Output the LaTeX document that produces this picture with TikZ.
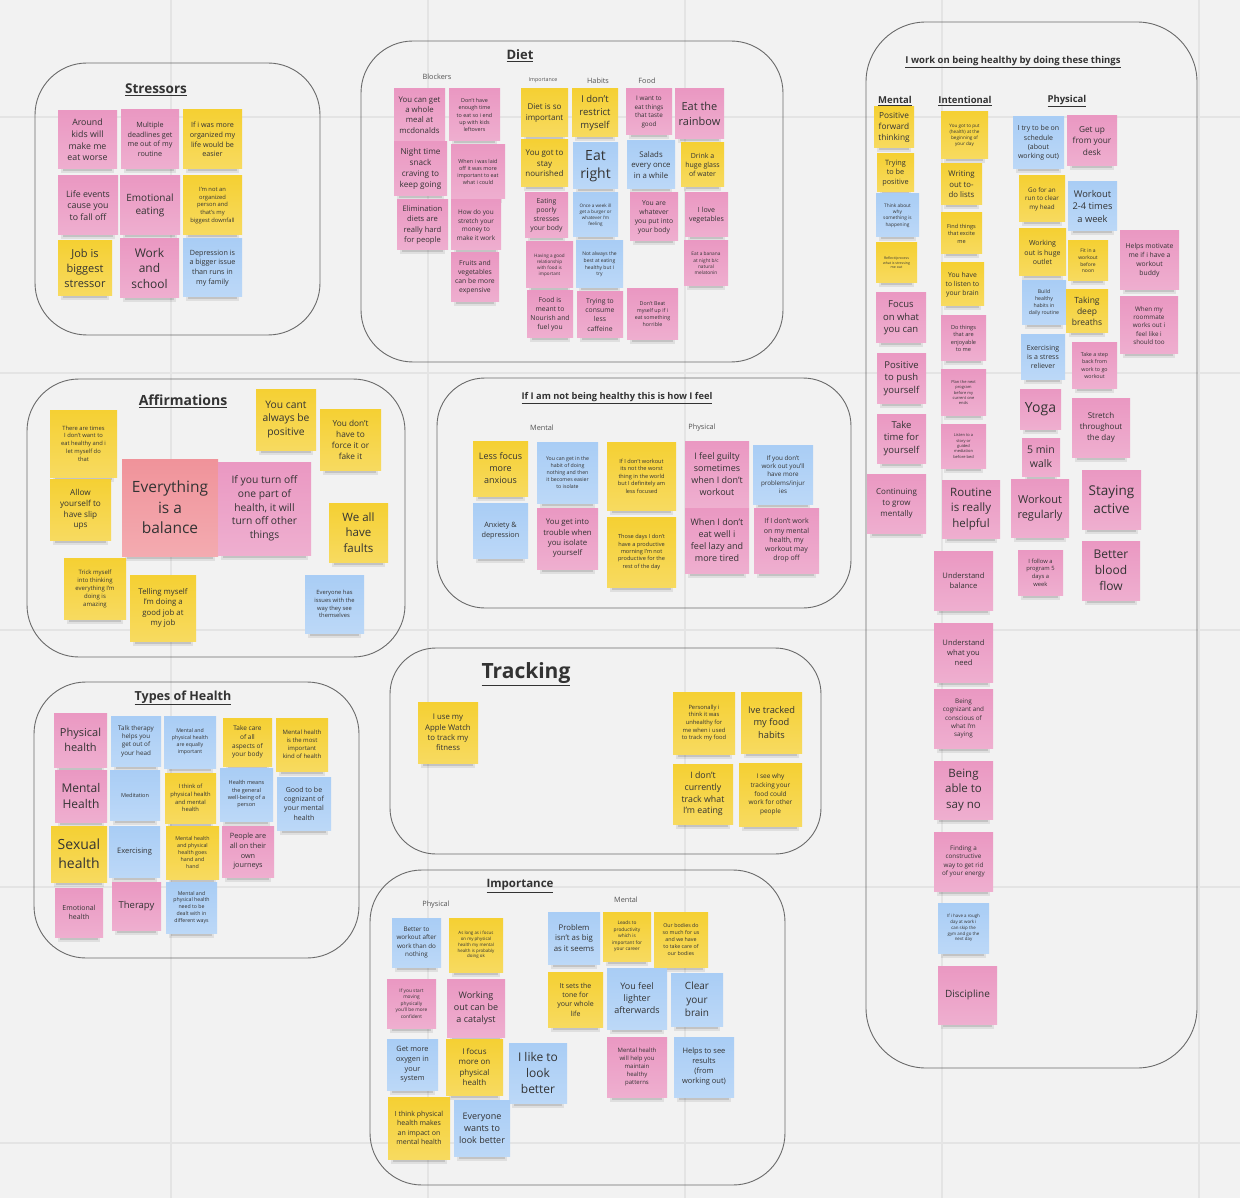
\documentclass[tikz,border=0pt]{standalone}
\usepackage{fontspec}
\setmainfont{Open Sans}
\definecolor{bg}{HTML}{F2F2F2}
\definecolor{gridc}{HTML}{E4E4E4}
\definecolor{pk}{HTML}{EA98C2}
\definecolor{yl}{HTML}{F5D033}
\definecolor{bl}{HTML}{A9CDF5}
\definecolor{rd}{HTML}{F0939A}
\definecolor{txt}{HTML}{333333}
\definecolor{frm}{HTML}{6A6A6A}
\newcommand\stick[8]{%
 \pgfmathsetmacro\stkcx{(#2+#4)/2}%
 \pgfmathsetmacro\stkcy{(#3+#5)/2}%
 \pgfmathsetmacro\stkw{#4-#2}%
 \pgfmathsetmacro\stkh{#5-#3}%
 \pgfmathsetmacro\stkbs{#7*1.33}%
 \fill[black,opacity=0.08] (#2+3,#5-3) rectangle (#4-3,#5+4.5);
 \fill[black,opacity=0.12] (#2+5,#5-3) rectangle (#4-5,#5+2.5);
 \node[note, top color=#6, bottom color=#6!78!white, minimum width=\stkw pt, minimum height=\stkh pt, font=\fontsize{#7}{\stkbs}\selectfont] (#1) at (\stkcx,\stkcy) {#8};}
\tikzset{
 note/.style={rectangle, inner sep=1pt, align=center, text=txt},
 frame/.style={draw=frm, line width=0.9pt, rounded corners=52pt},
 ttl/.style={text=txt, inner sep=0pt},
 sub/.style={text=txt!85!white, inner sep=0pt, font=\fontsize{7.3}{9}\selectfont}
}
\begin{document}
\begin{tikzpicture}[x=1pt,y=-1pt]
\useasboundingbox (0,0) rectangle (1240,1198);
\fill[bg] (0,0) rectangle (1240,1198);
% grid
\foreach \gx in {171,428,685,942,1199} \draw[gridc, line width=1.6pt] (\gx,0) -- (\gx,1198);
\foreach \gy in {117,373,630,887,1143} \draw[gridc, line width=1.6pt] (0,\gy) -- (1240,\gy);
% frames
\draw[frame] (35,63) rectangle (320,335);
\draw[frame] (361,41) rectangle (783,362);
\draw[frame, rounded corners=60pt] (866,22) rectangle (1197,1068);
\draw[frame] (27,379) rectangle (405,657);
\draw[frame, rounded corners=48pt] (437,378) rectangle (851,608);
\draw[frame] (34,682) rectangle (359,958);
\draw[frame, rounded corners=46pt] (390,648) rectangle (821,854);
\draw[frame] (370,870) rectangle (785,1185);
% titles
\node[ttl, font=\bfseries\fontsize{13.5}{16}\selectfont] (tStress) at (156,90) {\underline{Stressors}};
\node[ttl, font=\bfseries\fontsize{13}{16}\selectfont] (tDiet) at (520,56) {\underline{Diet}};
\node[ttl, font=\bfseries\fontsize{9.5}{12}\selectfont] (tWork) at (1013,62) {\underline{I work on being healthy by doing these things}};
\node[ttl, font=\bfseries\fontsize{9.5}{12}\selectfont] (tMen) at (895,101) {\underline{Mental}};
\node[ttl, font=\bfseries\fontsize{9.5}{12}\selectfont] (tInt) at (965,101) {\underline{Intentional}};
\node[ttl, font=\bfseries\fontsize{9.5}{12}\selectfont] (tPhy) at (1067,101) {\underline{Physical}};
\node[ttl, font=\bfseries\fontsize{14}{17}\selectfont] (tAff) at (183,401) {\underline{Affirmations}};
\node[ttl, font=\bfseries\fontsize{9.3}{12}\selectfont] (tNot) at (617,398) {\underline{If I am not being healthy this is how I feel}};
\node[ttl, font=\bfseries\fontsize{12.5}{15}\selectfont] (tTyp) at (183,698) {\underline{Types of Health}};
\node[ttl, font=\bfseries\fontsize{21}{25}\selectfont] (tTrk) at (526,674) {\underline{Tracking}};
\node[ttl, font=\bfseries\fontsize{11.5}{14}\selectfont] (tImp) at (520,886) {\underline{Importance}};
% sub labels
\node[sub] (lBlk) at (437,77) {Blockers};
\node[sub, font=\fontsize{5.3}{7}\selectfont] (lImp) at (543,80) {Importance};
\node[sub] (lHab) at (598,81) {Habits};
\node[sub] (lFood) at (647,81) {Food};
\node[sub] (lMen) at (542,428) {Mental};
\node[sub] (lPhy) at (702,428) {Physical};
\node[sub] (lPhy2) at (436,905) {Physical};
\node[sub] (lMen2) at (626,900) {Mental};
% Stressors
\stick{s1}{58}{111}{117}{169}{pk}{8.8}{Around\\kids will\\make me\\eat worse}
\stick{s2}{121}{110}{179}{169}{pk}{7.2}{Multiple\\deadlines get\\me out of my\\routine}
\stick{s3}{183}{110}{242}{169}{yl}{7.2}{If i was more\\organized my\\life would be\\easier}
\stick{s4}{58}{176}{118}{235}{pk}{8.8}{Life events\\cause you\\to fall off}
\stick{s5}{120}{176}{180}{235}{pk}{10}{Emotional\\eating}
\stick{s6}{183}{176}{242}{235}{yl}{5.8}{I'm not an\\organized\\person and\\that's my\\biggest downfall}
\stick{s7}{58}{241}{112}{296}{yl}{11}{Job is\\biggest\\stressor}
\stick{s8}{120}{239}{179}{298}{pk}{12}{Work\\and\\school}
\stick{s9}{183}{239}{242}{297}{bl}{7.2}{Depression is\\a bigger issue\\than runs in\\my family}
% Diet
\stick{d1}{394}{89}{445}{141}{pk}{7.8}{You can get\\a whole\\meal at\\mcdonalds}
\stick{d2}{449}{89}{500}{141}{pk}{5.4}{Don't have\\enough time\\to eat so i end\\up with kids\\leftovers}
\stick{d3}{394}{142}{447}{196}{pk}{8.2}{Night time\\snack\\craving to\\keep going}
\stick{d4}{451}{145}{505}{199}{pk}{5.4}{When i was laid\\off it was more\\important to eat\\what i could}
\stick{d5}{397}{200}{448}{250}{pk}{7.6}{Elimination\\diets are\\really hard\\for people}
\stick{d6}{451}{200}{501}{250}{pk}{6.4}{How do you\\stretch your\\money to\\make it work}
\stick{d7}{451}{253}{499}{302}{pk}{6.8}{Fruits and\\vegetables\\can be more\\expensive}
\stick{d8}{521}{89}{568}{137}{yl}{8}{Diet is so\\important}
\stick{d9}{572}{89}{618}{137}{yl}{9.5}{I don't\\restrict\\myself}
\stick{d10}{626}{89}{672}{135}{pk}{6.3}{I want to\\eat things\\that taste\\good}
\stick{d11}{675}{89}{724}{139}{pk}{11}{Eat the\\rainbow}
\stick{d12}{521}{140}{568}{187}{yl}{8}{You got to\\stay\\nourished}
\stick{d13}{573}{143}{618}{189}{bl}{14}{Eat\\right}
\stick{d14}{627}{141}{675}{189}{bl}{7.8}{Salads\\every once\\in a while}
\stick{d15}{681}{143}{724}{187}{yl}{7}{Drink a\\huge glass\\of water}
\stick{d16}{525}{193}{568}{238}{pk}{6.8}{Eating\\poorly\\stresses\\your body}
\stick{d17}{573}{193}{618}{237}{bl}{4.6}{Once a week ill\\get a burger or\\whatever I'm\\feeling}
\stick{d18}{630}{193}{678}{241}{pk}{6.8}{You are\\whatever\\you put into\\your body}
\stick{d19}{685}{193}{728}{237}{pk}{7}{I love\\vegetables}
\stick{d20}{526}{242}{573}{288}{pk}{4.6}{Having a good\\relationship\\with food is\\important}
\stick{d21}{576}{241}{623}{288}{bl}{5}{Not always the\\best at eating\\healthy but I\\try}
\stick{d22}{684}{241}{728}{286}{pk}{4.8}{Eat a banana\\at night b/c\\natural\\melatonin}
\stick{d23}{527}{291}{573}{338}{pk}{6.8}{Food is\\meant to\\Nourish and\\fuel you}
\stick{d24}{577}{292}{623}{338}{pk}{6.8}{Trying to\\consume\\less\\caffeine}
\stick{d25}{627}{289}{678}{340}{pk}{5.3}{Don't Beat\\myself up if i\\eat something\\horrible}
% Healthy - mental
\stick{h1}{874}{107}{914}{148}{yl}{8.3}{Positive\\forward\\thinking}
\stick{h2}{877}{154}{914}{192}{yl}{7.3}{Trying\\to be\\positive}
\stick{h3}{876}{194}{919}{237}{bl}{4.8}{Think about\\why\\something is\\happening}
\stick{h4}{876}{243}{917}{283}{yl}{3.5}{Reflect/process\\what is stressing\\me out}
\stick{h5}{876}{293}{926}{343}{pk}{9.5}{Focus\\on what\\you can}
\stick{h6}{877}{354}{926}{403}{pk}{9.5}{Positive\\to push\\yourself}
\stick{h7}{877}{414}{926}{463}{pk}{9.5}{Take\\time for\\yourself}
\stick{h8}{867}{474}{926}{533}{pk}{8}{Continuing\\to grow\\mentally}
% Healthy - intentional
\stick{i1}{941}{112}{988}{159}{yl}{4.6}{You got to put\\(health) at the\\beginning of\\your day}
\stick{i2}{941}{164}{982}{205}{yl}{7.8}{Writing\\out to-\\do lists}
\stick{i3}{941}{213}{982}{254}{yl}{5.6}{Find things\\that excite\\me}
\stick{i4}{941}{263}{984}{306}{yl}{6.8}{You have\\to listen to\\your brain}
\stick{i5}{941}{316}{986}{361}{pk}{5.6}{Do things\\that are\\enjoyable\\to me}
\stick{i6}{941}{370}{986}{415}{pk}{4}{Plan the next\\program\\before my\\current one\\ends}
\stick{i7}{941}{424}{986}{468}{pk}{4}{Listen to a\\story or\\guided\\mediation\\before bed}
\stick{i8}{942}{480}{1000}{538}{pk}{11.5}{Routine\\is really\\helpful}
\stick{i9}{934}{551}{993}{610}{pk}{7.6}{Understand\\balance}
\stick{i10}{934}{623}{993}{682}{pk}{7.6}{Understand\\what you\\need}
\stick{i11}{934}{689}{993}{748}{pk}{6.3}{Being\\cognizant and\\conscious of\\what I'm\\saying}
\stick{i12}{934}{761}{993}{819}{pk}{11.5}{Being\\able to\\say no}
\stick{i13}{934}{832}{993}{891}{pk}{6.3}{Finding a\\constructive\\way to get rid\\of your energy}
\stick{i14}{938}{903}{989}{953}{bl}{4.4}{If i have a rough\\day at work i\\can skip the\\gym and go the\\next day}
\stick{i15}{938}{966}{997}{1024}{pk}{10}{Discipline}
% Healthy - physical
\stick{p1}{1013}{117}{1064}{169}{bl}{7}{I try to be on\\schedule\\(about\\working out)}
\stick{p2}{1067}{116}{1117}{166}{pk}{8.3}{Get up\\from your\\desk}
\stick{p3}{1019}{176}{1065}{222}{yl}{6.3}{Go for an\\run to clear\\my head}
\stick{p4}{1068}{182}{1117}{231}{bl}{9.3}{Workout\\2-4 times\\a week}
\stick{p5}{1019}{229}{1066}{276}{yl}{7}{Working\\out is huge\\outlet}
\stick{p6}{1068}{241}{1108}{281}{yl}{5}{Fit in a\\workout\\before\\noon}
\stick{p7}{1120}{231}{1179}{290}{pk}{6.8}{Helps motivate\\me if i have a\\workout\\buddy}
\stick{p8}{1022}{281}{1066}{325}{bl}{5.2}{Build\\healthy\\habits in\\daily routine}
\stick{p9}{1066}{290}{1108}{333}{yl}{8.5}{Taking\\deep\\breaths}
\stick{p10}{1120}{297}{1178}{354}{pk}{6.3}{When my\\roommate\\works out i\\feel like i\\should too}
\stick{p11}{1021}{335}{1065}{379}{bl}{7}{Exercising\\is a stress\\reliever}
\stick{p12}{1072}{343}{1117}{388}{pk}{5.3}{Take a step\\back from\\work to go\\workout}
\stick{p13}{1020}{389}{1061}{429}{pk}{14}{Yoga}
\stick{p14}{1072}{398}{1130}{457}{pk}{8}{Stretch\\throughout\\the day}
\stick{p15}{1022}{438}{1060}{476}{pk}{10.5}{5 min\\walk}
\stick{p16}{1011}{479}{1069}{537}{pk}{11}{Workout\\regularly}
\stick{p17}{1082}{470}{1141}{529}{pk}{13.5}{Staying\\active}
\stick{p18}{1018}{550}{1063}{595}{pk}{5.8}{I follow a\\program 5\\days a\\week}
\stick{p19}{1082}{541}{1140}{600}{pk}{12}{Better\\blood\\flow}
% Affirmations
\stick{a1}{50}{410}{117}{477}{yl}{5.8}{There are times\\I don't want to\\eat healthy and i\\let myself do\\that}
\stick{a2}{50}{479}{111}{540}{yl}{8.2}{Allow\\yourself to\\have slip\\ups}
\stick{a3}{122}{459}{218}{556}{rd}{15.5}{Everything\\is a\\balance}
\stick{a4}{218}{462}{311}{555}{pk}{10.3}{If you turn off\\one part of\\health, it will\\turn off other\\things}
\stick{a5}{256}{389}{316}{450}{yl}{10.3}{You cant\\always be\\positive}
\stick{a6}{320}{409}{381}{470}{yl}{8.3}{You don't\\have to\\force it or\\fake it}
\stick{a7}{329}{503}{388}{562}{yl}{11.5}{We all\\have\\faults}
\stick{a8}{64}{558}{126}{619}{yl}{6}{Trick myself\\into thinking\\everything I'm\\doing is\\amazing}
\stick{a9}{130}{575}{196}{641}{yl}{7.8}{Telling myself\\I'm doing a\\good job at\\my job}
\stick{a10}{305}{575}{364}{633}{bl}{5.8}{Everyone has\\issues with the\\way they see\\themselves}
% If not healthy
\stick{n1}{473}{441}{528}{496}{yl}{9}{Less focus\\more\\anxious}
\stick{n2}{537}{442}{598}{503}{bl}{5.2}{You can get in the\\habit of doing\\nothing and then\\it becomes easier\\to isolate}
\stick{n3}{607}{442}{676}{510}{yl}{5.6}{If I don't workout\\its not the worst\\thing in the world\\but I definitely am\\less focused}
\stick{n4}{685}{441}{749}{507}{pk}{9}{I feel guilty\\sometimes\\when I don't\\workout}
\stick{n5}{753}{445}{813}{504}{bl}{6.3}{If you don't\\work out you'll\\have more\\problems/injur\\ies}
\stick{n6}{473}{503}{528}{558}{bl}{7.3}{Anxiety \&\\depression}
\stick{n7}{537}{508}{598}{569}{pk}{7.8}{You get into\\trouble when\\you isolate\\yourself}
\stick{n8}{607}{517}{676}{587}{yl}{5.6}{Those days I don't\\have a productive\\morning I'm not\\productive for the\\rest of the day}
\stick{n9}{685}{508}{749}{573}{pk}{9}{When I don't\\eat well i\\feel lazy and\\more tired}
\stick{n10}{754}{508}{819}{573}{pk}{7}{If I don't work\\on my mental\\health, my\\workout may\\drop off}
% Types of health
\stick{t1}{54}{713}{107}{767}{pk}{11}{Physical\\health}
\stick{t2}{111}{716}{161}{766}{bl}{6.3}{Talk therapy\\helps you\\get out of\\your head}
\stick{t3}{164}{716}{216}{768}{bl}{5.2}{Mental and\\physical health\\are equally\\important}
\stick{t4}{223}{718}{272}{766}{yl}{6.5}{Take care\\of all\\aspects of\\your body}
\stick{t5}{276}{718}{328}{771}{yl}{6}{Mental health\\is the most\\important\\kind of health}
\stick{t6}{55}{770}{107}{822}{pk}{12}{Mental\\Health}
\stick{t7}{110}{770}{160}{820}{bl}{5.5}{Meditation}
\stick{t8}{165}{773}{216}{823}{yl}{5.8}{I think of\\physical health\\and mental\\health}
\stick{t9}{220}{768}{273}{821}{bl}{5.5}{Health means\\the general\\well-being of a\\person}
\stick{t10}{277}{777}{331}{830}{bl}{7}{Good to be\\cognizant of\\your mental\\health}
\stick{t11}{51}{826}{107}{882}{yl}{14}{Sexual\\health}
\stick{t12}{109}{826}{160}{877}{bl}{7.5}{Exercising}
\stick{t13}{166}{826}{219}{879}{yl}{5.3}{Mental health\\and physical\\health goes\\hand and\\hand}
\stick{t14}{222}{826}{274}{877}{pk}{7.3}{People are\\all on their\\own\\journeys}
\stick{t15}{55}{888}{103}{937}{pk}{7}{Emotional\\health}
\stick{t16}{112}{882}{161}{930}{pk}{9.5}{Therapy}
\stick{t17}{166}{882}{217}{933}{bl}{5.2}{Mental and\\physical health\\need to be\\dealt with in\\different ways}
% Tracking
\stick{k1}{418}{702}{478}{763}{yl}{7.8}{I use my\\Apple Watch\\to track my\\fitness}
\stick{k2}{673}{692}{735}{754}{yl}{5.8}{Personally i\\think it was\\unhealthy for\\me when i used\\to track my food}
\stick{k3}{741}{692}{802}{753}{yl}{9.3}{Ive tracked\\my food\\habits}
\stick{k4}{673}{764}{733}{824}{yl}{8.8}{I don't\\currently\\track what\\I'm eating}
\stick{k5}{739}{763}{802}{826}{yl}{6.5}{I see why\\tracking your\\food could\\work for other\\people}
% Importance
\stick{m1}{392}{918}{441}{967}{bl}{6.3}{Better to\\workout after\\work than do\\nothing}
\stick{m2}{449}{918}{503}{972}{yl}{4.4}{As long as i focus\\on my physical\\health my mental\\health is probably\\doing ok}
\stick{m3}{387}{979}{436}{1028}{pk}{4.8}{If you start\\moving\\physically\\you'll be more\\confident}
\stick{m4}{447}{979}{505}{1037}{pk}{9}{Working\\out can be\\a catalyst}
\stick{m5}{387}{1039}{438}{1090}{bl}{7.3}{Get more\\oxygen in\\your\\system}
\stick{m6}{446}{1039}{503}{1095}{yl}{8}{I focus\\more on\\physical\\health}
\stick{m7}{509}{1043}{567}{1103}{bl}{12}{I like to\\look\\better}
\stick{m8}{388}{1097}{450}{1159}{yl}{7}{I think physical\\health makes\\an impact on\\mental health}
\stick{m9}{454}{1100}{510}{1156}{bl}{9}{Everyone\\wants to\\look better}
\stick{m10}{548}{912}{600}{964}{bl}{7.8}{Problem\\isn't as big\\as it seems}
\stick{m11}{603}{912}{651}{961}{yl}{4.8}{Leads to\\productivity\\which is\\important for\\your career}
\stick{m12}{654}{912}{708}{967}{yl}{5.3}{Our bodies do\\so much for us\\and we have\\to take care of\\our bodies}
\stick{m13}{548}{972}{603}{1027}{yl}{7}{It sets the\\tone for\\your whole\\life}
\stick{m14}{607}{968}{667}{1029}{bl}{9}{You feel\\lighter\\afterwards}
\stick{m15}{671}{973}{723}{1026}{bl}{10}{Clear\\your\\brain}
\stick{m16}{607}{1037}{667}{1097}{pk}{6}{Mental health\\will help you\\maintain\\healthy\\patterns}
\stick{m17}{674}{1037}{734}{1097}{bl}{7.5}{Helps to see\\results\\(from\\working out)}
\end{tikzpicture}
\end{document}
